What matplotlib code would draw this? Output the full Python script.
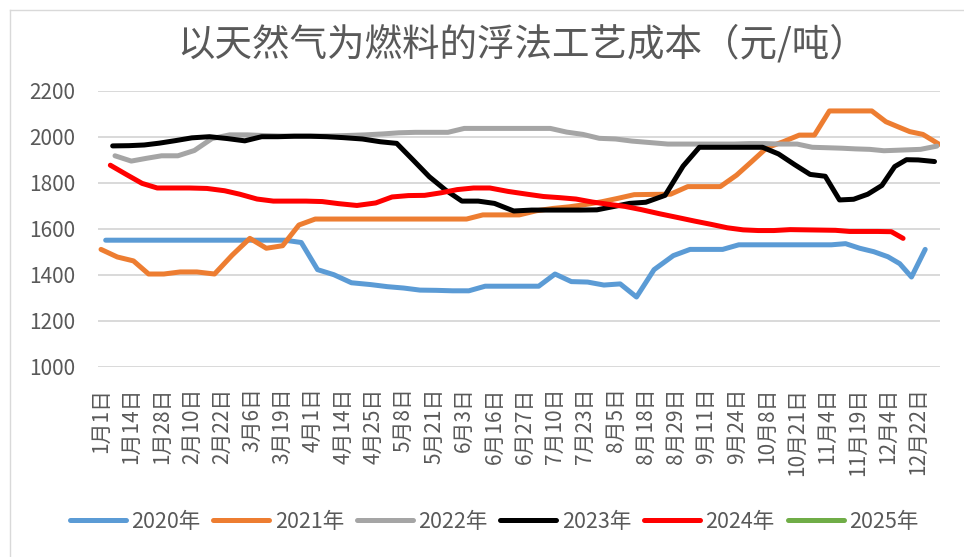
import numpy as np
import pandas as pd
import matplotlib
matplotlib.use('Agg')
import matplotlib.pyplot as plt
from matplotlib.lines import Line2D

plt.rcParams['font.family'] = ['Noto Sans CJK SC', 'DejaVu Sans']

title = '以天然气为燃料的浮法工艺成本（元/吨）'
tick_labels = ['1月1日', '1月14日', '1月28日', '2月10日', '2月22日', '3月6日', '3月19日',
               '4月1日', '4月14日', '4月25日', '5月8日', '5月21日', '6月3日', '6月16日',
               '6月27日', '7月10日', '7月23日', '8月5日', '8月18日', '8月29日', '9月11日',
               '9月24日', '10月8日', '10月21日', '11月4日', '11月19日', '12月4日', '12月22日']
years = ['2020年', '2021年', '2022年', '2023年', '2024年', '2025年']
start_dates = ['2020-01-03', '2021-01-01', '2022-01-07', '2023-01-06', '2024-01-05', '2025-01-03']
colors = ['#5B9BD5', '#ED7D31', '#A5A5A5', '#000000', '#FF0000', '#70AD47']

v2020 = [1550, 1550, 1550, 1550, 1550, 1550, 1550, 1550, 1550, 1550, 1550, 1550,
         1540, 1422, 1400, 1365, 1357, 1348, 1342, 1333, 1332, 1330, 1330, 1350,
         1350, 1350, 1350, 1403, 1370, 1368, 1355, 1360, 1303, 1422, 1483, 1510,
         1510, 1510, 1530, 1530, 1530, 1530, 1530, 1530, 1530, 1535, 1515, 1500,
         1478, 1448, 1390, 1510]
v2021 = [1510, 1477, 1460, 1403, 1403, 1412, 1412, 1403, 1485, 1558, 1515, 1526,
         1616, 1642, 1642, 1642, 1642, 1642, 1642, 1642, 1642, 1642, 1642, 1660,
         1660, 1660, 1678, 1688, 1695, 1705, 1717, 1732, 1748, 1749, 1750, 1783,
         1783, 1783, 1833, 1892, 1952, 1978, 2007, 2007, 2112, 2112, 2112, 2112,
         2065, 2043, 2022, 2010, 1967]
v2022 = [1917, 1894, 1906, 1917, 1917, 1940, 1992, 2008, 2008, 2005, 2003, 2003,
         2003, 2003, 2005, 2008, 2012, 2017, 2019, 2019, 2019, 2036, 2036, 2036,
         2036, 2036, 2036, 2020, 2010, 1993, 1990, 1981, 1975, 1968, 1968, 1968,
         1968, 1968, 1970, 1970, 1968, 1968, 1954, 1952, 1950, 1947, 1945, 1939,
         1941, 1943, 1945, 1959]
v2023 = [1960, 1961, 1964, 1972, 1983, 1995, 2000, 1992, 1982, 2000, 2000, 2002,
         2002, 2000, 1996, 1990, 1978, 1971, 1899, 1826, 1768, 1720, 1720, 1710,
         1677, 1681, 1681, 1681, 1681, 1682, 1696, 1710, 1715, 1745, 1872, 1954,
         1954, 1954, 1954, 1954, 1925, 1878, 1836, 1828, 1725, 1728, 1750, 1788,
         1870, 1900, 1899, 1892]
v2024 = [1876, 1835, 1797, 1777, 1777, 1777, 1775, 1765, 1750, 1729, 1720, 1720,
         1720, 1718, 1709, 1701, 1712, 1738, 1744, 1745, 1756, 1770, 1777, 1777,
         1762, 1750, 1740, 1735, 1729, 1716, 1706, 1697, 1683, 1665, 1648, 1633,
         1619, 1604, 1595, 1592, 1592, 1596, 1595, 1594, 1593, 1588, 1588, 1588,
         1587, 1558]
v2025 = []
series = [v2020, v2021, v2022, v2023, v2024, v2025]

yticks = [1000, 1200, 1400, 1600, 1800, 2000, 2200]

# category-axis mapping: month/day -> position measured in label slots
def md_to_day(month, day):
    return pd.Timestamp(2021, month, day).dayofyear - 1

label_days = []
for lab in tick_labels:
    m, d = lab.replace('日', '').split('月')
    label_days.append(md_to_day(int(m), int(d)))
label_days_ext = label_days + [label_days[-1] + 13]
label_idx_ext = list(range(len(label_days_ext)))


def positions(dates):
    days = [md_to_day(t.month, t.day) for t in dates]
    return np.interp(days, label_days_ext, label_idx_ext)


W, H = 964, 557
fig = plt.figure(figsize=(W / 100, H / 100), dpi=100)
ax = fig.add_axes([98 / W, 1 - 366.7 / H, (940 - 98) / W, (366.7 - 90.7) / H])

handles = []
for name, start, vals, col in zip(years, start_dates, series, colors):
    dates = pd.date_range(start, periods=len(vals), freq='7D')
    x = positions(dates) if len(vals) else []
    ln, = ax.plot(x, vals, color=col, lw=3.6, solid_capstyle='round',
                  solid_joinstyle='round', label=name, zorder=3)
    handles.append(ln)

ax.set_xlim(-0.1, 27.72)
ax.set_ylim(1000, 2200)
ax.set_yticks(yticks)
ax.set_xticks(range(len(tick_labels)))
ax.set_xticklabels(tick_labels, rotation=90, va='top', ha='center')
ax.grid(axis='y', color='#d9d9d9', lw=1.4, zorder=0)
ax.grid(axis='x', visible=False)
for s in ax.spines.values():
    s.set_visible(False)
ax.tick_params(axis='both', length=0, labelsize=15, labelcolor='#595959')
ax.tick_params(axis='y', pad=16.5)
ax.tick_params(axis='x', pad=15)

fig.text(522 / W, 1 - 45 / H, title, ha='center', va='center', fontsize=27,
         color='#595959')

fig.legend(handles=handles, labels=years, loc='center',
           bbox_to_anchor=(494 / W, 1 - 522 / H), ncol=6, frameon=False,
           fontsize=15.5, handlelength=2.6, handletextpad=0.25,
           columnspacing=0.6, labelcolor='#595959')

# chart-area border (top and left edges visible in the crop)
fig.add_artist(Line2D([10 / W, 1], [1 - 10 / H, 1 - 10 / H], transform=fig.transFigure,
                      color='#d9d9d9', lw=1))
fig.add_artist(Line2D([10 / W, 10 / W], [0, 1 - 10 / H], transform=fig.transFigure,
                      color='#d9d9d9', lw=1))

fig.savefig('out.png', dpi=100)
